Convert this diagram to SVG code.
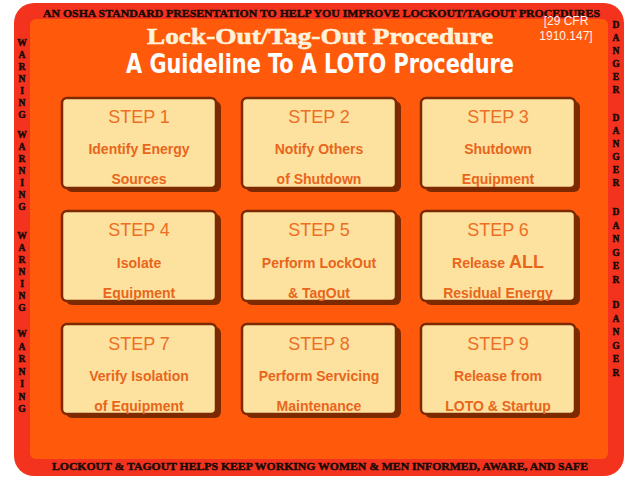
<svg xmlns="http://www.w3.org/2000/svg" width="638" height="479" viewBox="0 0 638 479">
<defs>
<style>
.banner{font-family:"Liberation Serif","DejaVu Serif",serif;font-weight:bold;font-size:11px;fill:#1a0a05;stroke:#1a0a05;stroke-width:0.45;}
.side{font-family:"Liberation Serif","DejaVu Serif",serif;font-weight:bold;font-size:9.5px;fill:#1a0a05;stroke:#1a0a05;stroke-width:0.5;text-anchor:middle;}
.shadow{fill:#7d2a02;}
.card{fill:#fde19f;stroke:#7d2a02;stroke-width:2.5;}
.step{font-family:"Liberation Sans",Arial,sans-serif;font-size:18px;fill:#ec6f24;text-anchor:middle;}
.desc{font-family:"Liberation Sans",Arial,sans-serif;font-weight:bold;font-size:14px;fill:#e8661c;text-anchor:middle;}
</style>
</defs>
<rect width="638" height="479" fill="#ffffff"/>
<rect x="14" y="3" width="610" height="473" rx="20" fill="#f4331f"/>
<rect x="30" y="19" width="578" height="440" rx="6" fill="#ff5a0b"/>

<text class="banner" x="43" y="17" textLength="557" lengthAdjust="spacingAndGlyphs">AN OSHA STANDARD PRESENTATION TO HELP YOU IMPROVE LOCKOUT/TAGOUT PROCEDURES</text>
<text class="banner" x="52" y="470" textLength="536" lengthAdjust="spacingAndGlyphs">LOCKOUT &amp; TAGOUT HELPS KEEP WORKING WOMEN &amp; MEN INFORMED, AWARE, AND SAFE</text>

<g id="title">
<text x="320" y="44" text-anchor="middle" font-family="Liberation Serif, DejaVu Serif, serif" font-weight="bold" font-size="24" fill="#fff2dc" stroke="#fff2dc" stroke-width="0.6" textLength="346" lengthAdjust="spacingAndGlyphs">Lock-Out/Tag-Out Procedure</text>
<text x="320" y="73" text-anchor="middle" font-family="Liberation Sans Narrow, DejaVu Sans Condensed, Liberation Sans, sans-serif" font-weight="bold" font-size="27" fill="#ffffff" textLength="388" lengthAdjust="spacingAndGlyphs">A Guideline To A LOTO Procedure</text>
</g>
<g id="cfr" font-family="Liberation Sans, Arial, sans-serif" font-size="12" fill="#fff1e8" text-anchor="middle">
<text x="566" y="25">[29 CFR</text>
<text x="566" y="40">1910.147]</text>
</g>

<g id="warning-strip">
<text class="side" x="22" y="46">W</text><text class="side" x="22" y="58">A</text><text class="side" x="22" y="70">R</text><text class="side" x="22" y="82">N</text><text class="side" x="22" y="94">I</text><text class="side" x="22" y="106">N</text><text class="side" x="22" y="118">G</text>
<text class="side" x="22" y="138">W</text><text class="side" x="22" y="150">A</text><text class="side" x="22" y="162">R</text><text class="side" x="22" y="174">N</text><text class="side" x="22" y="186">I</text><text class="side" x="22" y="198">N</text><text class="side" x="22" y="210">G</text>
<text class="side" x="22" y="239">W</text><text class="side" x="22" y="251">A</text><text class="side" x="22" y="263">R</text><text class="side" x="22" y="275">N</text><text class="side" x="22" y="287">I</text><text class="side" x="22" y="299">N</text><text class="side" x="22" y="311">G</text>
<text class="side" x="22" y="337">W</text><text class="side" x="22" y="349.5">A</text><text class="side" x="22" y="362">R</text><text class="side" x="22" y="374.5">N</text><text class="side" x="22" y="387">I</text><text class="side" x="22" y="399.5">N</text><text class="side" x="22" y="412">G</text>
</g>
<g id="danger-strip">
<text class="side" x="616" y="28">D</text><text class="side" x="616" y="41">A</text><text class="side" x="616" y="54">N</text><text class="side" x="616" y="67">G</text><text class="side" x="616" y="80">E</text><text class="side" x="616" y="93">R</text>
<text class="side" x="616" y="121">D</text><text class="side" x="616" y="134">A</text><text class="side" x="616" y="147">N</text><text class="side" x="616" y="160">G</text><text class="side" x="616" y="173">E</text><text class="side" x="616" y="186">R</text>
<text class="side" x="616" y="215">D</text><text class="side" x="616" y="228.5">A</text><text class="side" x="616" y="242">N</text><text class="side" x="616" y="255.5">G</text><text class="side" x="616" y="269">E</text><text class="side" x="616" y="282.5">R</text>
<text class="side" x="616" y="308">D</text><text class="side" x="616" y="321.5">A</text><text class="side" x="616" y="335">N</text><text class="side" x="616" y="348.5">G</text><text class="side" x="616" y="362">E</text><text class="side" x="616" y="375.5">R</text>
</g>

<g id="step1"><rect class="shadow" x="66" y="101" width="155" height="91" rx="6"/><rect class="card" x="62" y="98" width="154" height="90" rx="5"/>
<text class="step" x="139" y="123">STEP 1</text><text class="desc" x="139" y="154">Identify Energy</text><text class="desc" x="139" y="184">Sources</text></g>
<g id="step2"><rect class="shadow" x="246" y="101" width="155" height="91" rx="6"/><rect class="card" x="242" y="98" width="154" height="90" rx="5"/>
<text class="step" x="319" y="123">STEP 2</text><text class="desc" x="319" y="154">Notify Others</text><text class="desc" x="319" y="184">of Shutdown</text></g>
<g id="step3"><rect class="shadow" x="425" y="101" width="155" height="91" rx="6"/><rect class="card" x="421" y="98" width="154" height="90" rx="5"/>
<text class="step" x="498" y="123">STEP 3</text><text class="desc" x="498" y="154">Shutdown</text><text class="desc" x="498" y="184">Equipment</text></g>

<g id="step4"><rect class="shadow" x="66" y="214" width="155" height="91" rx="6"/><rect class="card" x="62" y="211" width="154" height="90" rx="5"/>
<text class="step" x="139" y="236">STEP 4</text><text class="desc" x="139" y="268">Isolate</text><text class="desc" x="139" y="298">Equipment</text></g>
<g id="step5"><rect class="shadow" x="246" y="214" width="155" height="91" rx="6"/><rect class="card" x="242" y="211" width="154" height="90" rx="5"/>
<text class="step" x="319" y="236">STEP 5</text><text class="desc" x="319" y="268">Perform LockOut</text><text class="desc" x="319" y="298">&amp; TagOut</text></g>
<g id="step6"><rect class="shadow" x="425" y="214" width="155" height="91" rx="6"/><rect class="card" x="421" y="211" width="154" height="90" rx="5"/>
<text class="step" x="498" y="236">STEP 6</text><text class="desc" x="498" y="268">Release <tspan font-size="18">ALL</tspan></text><text class="desc" x="498" y="298">Residual Energy</text></g>

<g id="step7"><rect class="shadow" x="66" y="327" width="155" height="91" rx="6"/><rect class="card" x="62" y="324" width="154" height="90" rx="5"/>
<text class="step" x="139" y="350">STEP 7</text><text class="desc" x="139" y="381">Verify Isolation</text><text class="desc" x="139" y="411">of Equipment</text></g>
<g id="step8"><rect class="shadow" x="246" y="327" width="155" height="91" rx="6"/><rect class="card" x="242" y="324" width="154" height="90" rx="5"/>
<text class="step" x="319" y="350">STEP 8</text><text class="desc" x="319" y="381">Perform Servicing</text><text class="desc" x="319" y="411">Maintenance</text></g>
<g id="step9"><rect class="shadow" x="425" y="327" width="155" height="91" rx="6"/><rect class="card" x="421" y="324" width="154" height="90" rx="5"/>
<text class="step" x="498" y="350">STEP 9</text><text class="desc" x="498" y="381">Release from</text><text class="desc" x="498" y="411">LOTO &amp; Startup</text></g>
</svg>
